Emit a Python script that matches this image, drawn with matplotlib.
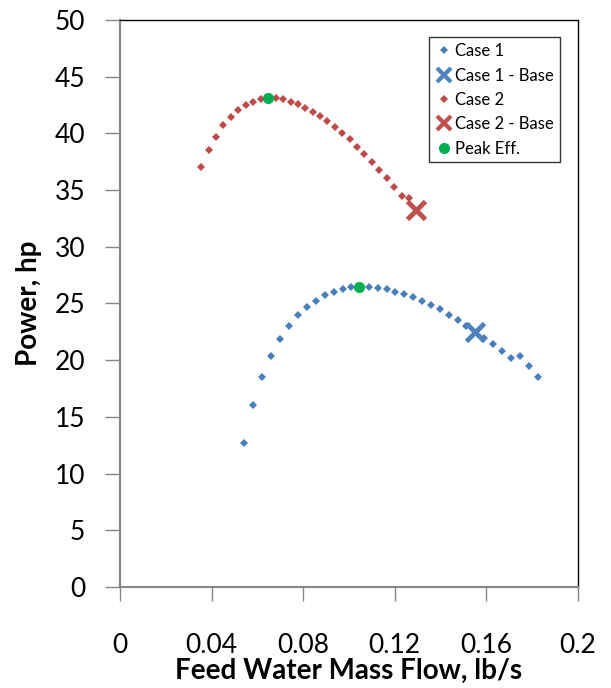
import numpy as np
import matplotlib.pyplot as plt

# Case 1 sweep (feed water mass flow lb/s, power hp)
case1_flow = [0.0543, 0.0582, 0.0621, 0.0659, 0.0699, 0.0738, 0.0776, 0.0815,
              0.0854, 0.0894, 0.0933, 0.0972, 0.1010, 0.1089, 0.1127, 0.1164,
              0.1202, 0.1241, 0.1279, 0.1319, 0.1358, 0.1396, 0.1435, 0.1474,
              0.1513, 0.1590, 0.1629, 0.1668, 0.1707, 0.1747, 0.1786, 0.1825]
case1_power = [12.67, 16.05, 18.49, 20.37, 21.84, 23.00, 23.96, 24.69,
               25.25, 25.72, 26.04, 26.28, 26.43, 26.48, 26.37, 26.25,
               26.04, 25.81, 25.55, 25.22, 24.87, 24.49, 24.02, 23.54,
               23.02, 21.93, 21.40, 20.81, 20.17, 20.40, 19.49, 18.55]
case1_base = (0.1550, 22.46)

# Case 2 sweep
case2_flow = [0.0354, 0.0389, 0.0419, 0.0451, 0.0485, 0.0517, 0.0549, 0.0582,
              0.0614, 0.0681, 0.0713, 0.0745, 0.0776, 0.0808, 0.0841, 0.0873,
              0.0905, 0.0937, 0.0971, 0.1003, 0.1035, 0.1067, 0.1099, 0.1132,
              0.1164, 0.1197, 0.1230, 0.1262]
case2_power = [37.07, 38.54, 39.70, 40.71, 41.47, 42.06, 42.50, 42.80,
               43.00, 43.10, 43.00, 42.80, 42.56, 42.27, 41.90, 41.50,
               41.10, 40.60, 40.06, 39.48, 38.83, 38.18, 37.50, 36.77,
               36.04, 35.30, 34.48, 34.27]
case2_base = (0.1293, 33.2)

peak_flow = [0.0648, 0.1045]
peak_power = [43.1, 26.43]

x_ticks = [0, 0.04, 0.08, 0.12, 0.16, 0.2]
x_ticklabels = ['0', '0.04', '0.08', '0.12', '0.16', '0.2']
y_ticks = np.arange(0, 55, 5)

plt.rcParams['font.family'] = ['Lato', 'DejaVu Sans']

fig = plt.figure(figsize=(6.11, 6.88), dpi=100)
ax = fig.add_axes([0.1964, 0.1468, 0.7496, 0.8242])

ax.plot(case1_flow, case1_power, 'D', color='#4A7EBB', ms=4.5, mew=0, label='Case 1')
ax.plot(*case1_base, 'x', color='#4F81BD', ms=13, mew=3.5, label='Case 1 - Base')
ax.plot(case2_flow, case2_power, 'D', color='#BE4B48', ms=4.5, mew=0, label='Case 2')
ax.plot(*case2_base, 'x', color='#C0504D', ms=13, mew=3.5, label='Case 2 - Base')
ax.plot(peak_flow, peak_power, 'o', color='#00B050', ms=8, mew=0, label='Peak Eff.', zorder=5)

ax.set_xlim(0, 0.2)
ax.set_ylim(0, 50)
ax.set_xticks(x_ticks)
ax.set_xticklabels(x_ticklabels)
ax.set_yticks(y_ticks)

for side in ['left', 'bottom']:
    ax.spines[side].set_color('#868686')
    ax.spines[side].set_linewidth(1.5)
for side in ['top', 'right']:
    ax.spines[side].set_color('black')
    ax.spines[side].set_linewidth(1.0)

ax.tick_params(axis='x', direction='out', length=10, width=1, color='#868686',
               labelsize=19, pad=23)
ax.tick_params(axis='y', direction='out', length=11, width=1, color='#868686',
               labelsize=19, pad=14)

ax.set_xlabel('Feed Water Mass Flow, lb/s', fontsize=20, fontweight='bold', labelpad=0)
ax.set_ylabel('Power, hp', fontsize=20, fontweight='bold', labelpad=9)

leg = ax.legend(loc='upper right', bbox_to_anchor=(0.978, 0.984), fontsize=12,
                frameon=True, fancybox=False, edgecolor='black', handletextpad=0.1,
                handlelength=1.1, labelspacing=0.5, borderpad=0.35)
leg.get_frame().set_linewidth(1.0)
# smaller glyphs in the legend than on the plot
for h, ms in zip(leg.legend_handles, [4, 10, 4, 10, 8]):
    h.set_markersize(ms)
    if ms == 10:
        h.set_markeredgewidth(3)

fig.savefig('out.png', dpi=100)
